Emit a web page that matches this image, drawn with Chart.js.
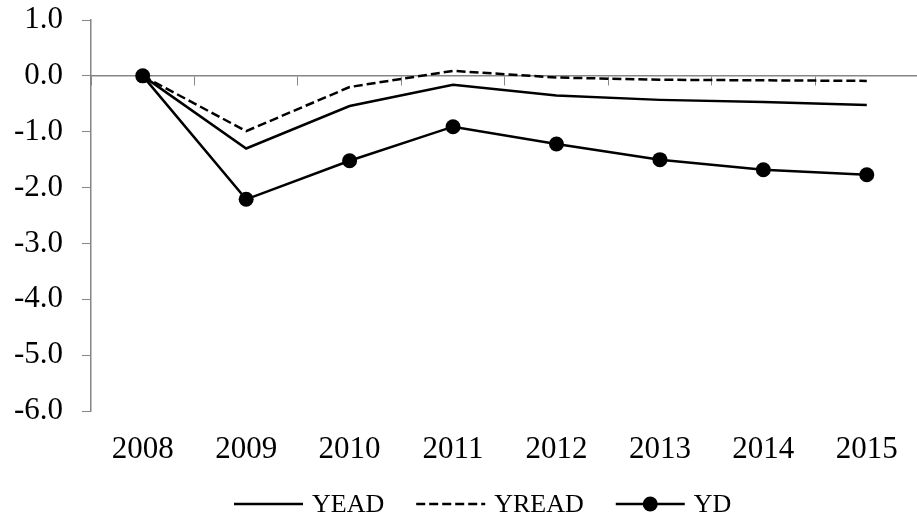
<!DOCTYPE html>
<html>
<head>
<meta charset="utf-8">
<script src="https://cdn.jsdelivr.net/npm/chart.js@4"></script>
<style>
  html, body { margin: 0; padding: 0; background: #fff; overflow: hidden; }
  #wrap { width: 926px; height: 518px; position: relative; }
</style>
</head>
<body>
<div id="wrap"><canvas id="grafico"></canvas></div>
<script>
// dados
const anos = ['2008', '2009', '2010', '2011', '2012', '2013', '2014', '2015'];
const yead = [0, -1.30, -0.54, -0.16, -0.35, -0.43, -0.47, -0.52];
const yread = [0, -0.99, -0.20, 0.09, -0.03, -0.07, -0.08, -0.09];
const yd = [0, -2.21, -1.52, -0.91, -1.22, -1.50, -1.68, -1.77];

const FONTE = "'Liberation Serif', 'Times New Roman', serif";
const CINZA = '#868686';

// legenda desenhada à mão (linha + marcador + texto)
const legendaPlugin = {
    id: 'legendaManual',
    afterDraw(chart) {
        const ctx = chart.ctx;
        const y = 504;
        let x = 234;
        ctx.save();
        ctx.font = '26px ' + FONTE;
        ctx.textBaseline = 'middle';
        ctx.fillStyle = '#000';
        chart.data.datasets.forEach(ds => {
            ctx.strokeStyle = ds.borderColor;
            ctx.lineWidth = ds.borderWidth;
            ctx.setLineDash(ds.borderDash || []);
            ctx.beginPath();
            ctx.moveTo(x, y);
            ctx.lineTo(x + 69, y);
            ctx.stroke();
            ctx.setLineDash([]);
            if (ds.pointRadius > 0) {
                ctx.beginPath();
                ctx.arc(x + 34.5, y, ds.pointRadius, 0, Math.PI * 2);
                ctx.fillStyle = ds.pointBackgroundColor;
                ctx.fill();
            }
            ctx.fillStyle = '#000';
            ctx.fillText(ds.label, x + 78, y + 1);
            x += 78 + ctx.measureText(ds.label).width + 32;
        });
        ctx.restore();
    }
};

new Chart(document.getElementById('grafico').getContext('2d'), {
    type: 'line',
    data: {
        labels: anos,
        datasets: [
            { label: 'YEAD', data: yead, borderColor: '#000', borderWidth: 2.5, pointRadius: 0, tension: 0 },
            { label: 'YREAD', data: yread, borderColor: '#000', borderWidth: 2.5, borderDash: [9, 4], pointRadius: 0, tension: 0 },
            { label: 'YD', data: yd, borderColor: '#000', borderWidth: 2.5, pointRadius: 7.5, pointBackgroundColor: '#000', pointBorderColor: '#000', pointBorderWidth: 0, tension: 0 }
        ]
    },
    options: {
        responsive: true,
        maintainAspectRatio: false,
        animation: false,
        layout: { padding: { left: 15, top: 20, right: 0, bottom: 50 } },
        plugins: { legend: { display: false }, tooltip: { enabled: false } },
        scales: {
            x: {
                type: 'category',
                offset: true,
                grid: { display: false, drawTicks: false },
                border: { display: false },
                ticks: { color: '#000', font: { family: FONTE, size: 31 }, padding: 20, maxRotation: 0 },
                afterFit: s => { s.height = 57; }
            },
            xZero: {
                type: 'category',
                labels: anos,
                position: { y: 0 },
                offset: true,
                grid: { display: true, drawOnChartArea: false, drawTicks: true, tickLength: 9, offset: true, color: CINZA, lineWidth: 1 },
                border: { display: true, color: CINZA, width: 1.5 },
                ticks: { display: false }
            },
            y: {
                min: -6,
                max: 1,
                grid: { display: true, drawOnChartArea: false, drawTicks: true, tickLength: 9, color: CINZA },
                border: { display: true, color: CINZA, width: 1.5 },
                ticks: {
                    stepSize: 1,
                    color: '#000',
                    font: { family: FONTE, size: 31 },
                    padding: 19,
                    callback: v => v.toFixed(1)
                },
                afterFit: s => { s.width = 76; s.paddingTop = 0; s.paddingBottom = 0; }
            }
        }
    },
    plugins: [legendaPlugin]
});
</script>
</body>
</html>
